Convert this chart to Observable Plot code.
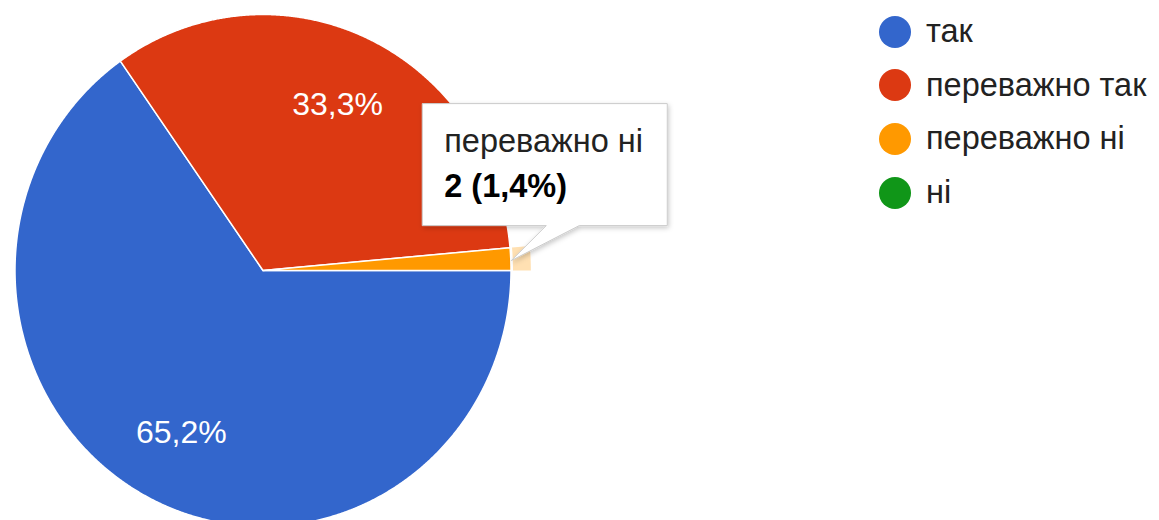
<!DOCTYPE html>
<html><head><meta charset="utf-8">
<script src="https://cdn.jsdelivr.net/npm/d3@7"></script>
<script src="https://cdn.jsdelivr.net/npm/@observablehq/plot@0.6"></script>
<style>
body{margin:0;background:#fff;font-family:"Liberation Sans",Arial,sans-serif;}
#wrap{position:relative;width:1159px;height:520px;overflow:hidden;}
#legend{position:absolute;left:879px;top:5px;}
.row{display:flex;align-items:center;height:53.6px;font-size:32.5px;color:#222;white-space:nowrap;}
.sw{width:32px;height:32px;border-radius:50%;margin-right:15px;flex:none;}
</style></head><body><div id="wrap"></div>
<script>
// ---- data ----
const categories = ["так", "переважно так", "переважно ні", "ні"];
const counts = [92, 47, 2, 0];
const colors = ["#3366cc", "#dc3912", "#ff9900", "#109618"];
const highlighted = "переважно ні";

// ---- layout ----
const W = 1159, H = 520;
const cx = 262.5, cy = 270, rx = 248, ry = 256;

const total = d3.sum(counts);
const data = categories.map((c, i) => ({category: c, count: counts[i], share: counts[i] / total}));
const fmt = s => (s * 100).toFixed(1).replace(".", ",") + "%";

const arcs = d3.pie().sort(null).value(d => d.count)
  .startAngle(Math.PI / 2).endAngle(Math.PI / 2 + 2 * Math.PI)(data)
  .filter(a => a.data.count > 0);

function arcPoints(a0, a1, r) {
  const n = Math.max(2, Math.ceil((a1 - a0) / 0.004));
  const pts = [];
  for (let i = 0; i <= n; i++) {
    const a = a0 + (a1 - a0) * i / n;
    pts.push([r * Math.sin(a), r * Math.cos(a)]);
  }
  return pts;
}

const slicePts = arcs.flatMap(a => {
  const pts = [[0, 0], ...arcPoints(a.startAngle, a.endAngle, 1)];
  return pts.map(([x, y]) => ({category: a.data.category, x, y}));
});

const hl = arcs.find(a => a.data.category === highlighted);
const ringPts = [...arcPoints(hl.startAngle, hl.endAngle, 1.08),
                 ...arcPoints(hl.startAngle, hl.endAngle, 1.008).reverse()]
  .map(([x, y]) => ({category: hl.data.category, x, y}));

const labels = arcs.filter(a => a.data.share >= 0.05).map(a => {
  const m = (a.startAngle + a.endAngle) / 2;
  return {x: 0.715 * Math.sin(m), y: 0.715 * Math.cos(m), text: fmt(a.data.share)};
});

const chart = Plot.plot({
  width: W, height: H, margin: 0,
  style: {fontFamily: '"Liberation Sans", Arial, sans-serif', background: "transparent"},
  x: {domain: [-1, 1], range: [cx - rx, cx + rx], axis: null},
  y: {domain: [-1, 1], range: [cy + ry, cy - ry], axis: null},
  color: {domain: categories, range: colors},
  marks: [
    Plot.line(ringPts, {x: "x", y: "y", z: "category", fill: "category", fillOpacity: 0.3, stroke: "none", curve: "linear-closed"}),
    Plot.line(slicePts, {x: "x", y: "y", z: "category", fill: "category", stroke: "white", strokeWidth: 1.5, strokeLinejoin: "round", curve: "linear-closed"}),
    Plot.text(labels, {x: "x", y: "y", text: "text", fill: "white", fontSize: 32})
  ]
});
document.getElementById("wrap").appendChild(chart);

// ---- tooltip for highlighted slice ----
const sx = chart.scale("x"), sy = chart.scale("y");
const m = (hl.startAngle + hl.endAngle) / 2;
const tipX = sx.apply(Math.sin(m)) + 1, tipY = sy.apply(Math.cos(m)) + 2;
const L = tipX - 89, R = L + 245, B = tipY - 35, T = B - 122;
const svg = d3.select(chart);
const defs = svg.append("defs");
const f = defs.append("filter").attr("id", "shadow").attr("x", "-10%").attr("y", "-10%").attr("width", "130%").attr("height", "140%");
f.append("feDropShadow").attr("dx", 1).attr("dy", 2).attr("stdDeviation", 2.5).attr("flood-color", "#000").attr("flood-opacity", 0.22);
const g = svg.append("g").attr("text-anchor", "start");
g.append("path")
  .attr("d", `M${L},${T}H${R}V${B}H${tipX + 68}L${tipX},${tipY}L${tipX + 35},${B}H${L}Z`)
  .attr("fill", "#fff").attr("stroke", "#cccccc").attr("stroke-width", 1)
  .attr("filter", "url(#shadow)");
g.append("text").attr("x", L + 22).attr("y", T + 48).attr("font-size", 32.5).attr("fill", "#222")
  .attr("text-anchor", "start").text(hl.data.category);
g.append("text").attr("x", L + 22).attr("y", T + 93).attr("font-size", 32.5).attr("font-weight", "bold").attr("fill", "#000")
  .attr("text-anchor", "start").text(`${hl.data.count} (${fmt(hl.data.share)})`);

// ---- legend ----
const legend = d3.select("#wrap").append("div").attr("id", "legend");
const rows = legend.selectAll("div").data(categories).join("div").attr("class", "row");
rows.append("span").attr("class", "sw").style("background", (d, i) => colors[i]);
rows.append("span").text(d => d);
</script></body></html>
